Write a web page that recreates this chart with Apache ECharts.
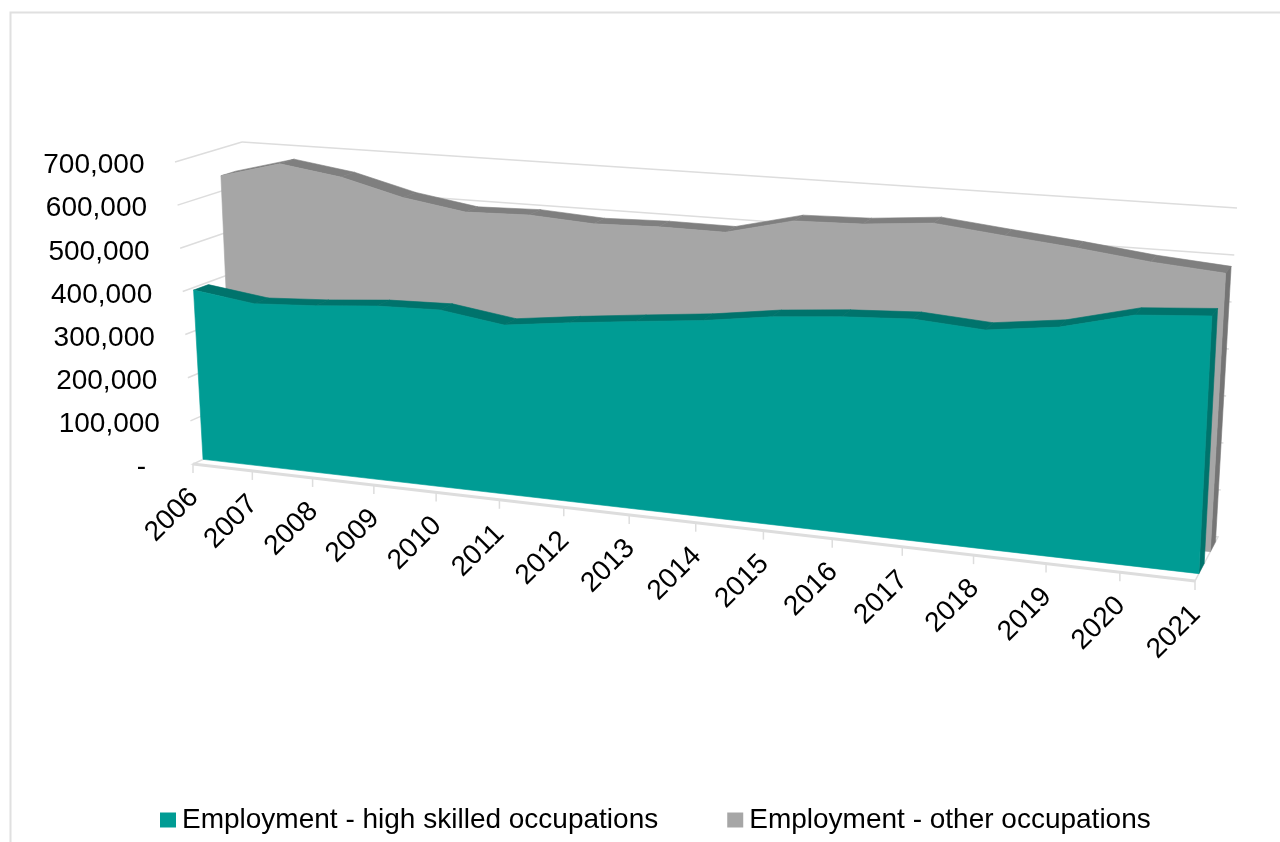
<!DOCTYPE html>
<html><head><meta charset="utf-8">
<style>html,body{margin:0;padding:0;background:#fff}#c{width:1280px;height:842px}</style>
<script src="https://cdn.jsdelivr.net/npm/echarts@6/dist/echarts.min.js"></script>
</head><body><div id="c"></div>
<script>
const years = ['2006','2007','2008','2009','2010','2011','2012','2013','2014','2015','2016','2017','2018','2019','2020','2021'];
const highSkilled = [394000,375000,383000,395000,399000,378000,396000,412000,427000,448000,461000,469000,459000,478000,516000,527000];
const otherOccupations = [636000,674000,653000,616000,593000,597000,588000,592000,591000,627000,631000,644000,628000,613000,595000,583000];
const yTicks = [0,100000,200000,300000,400000,500000,600000,700000];
const yTickLabels = ['-','100,000','200,000','300,000','400,000','500,000','600,000','700,000'];
const seriesNames = ['Employment - high skilled occupations','Employment - other occupations'];

// View of the 3D box: screen corners of the front and back planes
const FL0=[193,464], FR0=[1195,581], FL1=[175,162], FR1=[1212,236];
const BL0=[253,436], BR0=[1218,537], BL1=[242,142], BR1=[1237,208];
const PERSP=1.135;
const FONT='"Liberation Sans", Arial, sans-serif', FS=28;
const GRID='#DDDDDD';

function lerp(a,b,t){return [a[0]+(b[0]-a[0])*t,a[1]+(b[1]-a[1])*t];}
function makeProject(cs){
  return function(p,d){
    const u=(p[0]-cs.x)/cs.width, v=(cs.y+cs.height-p[1])/cs.height;
    const w=u/(u+PERSP*(1-u));
    const front=lerp(lerp(FL0,FL1,v),lerp(FR0,FR1,v),w);
    const back=lerp(lerp(BL0,BL1,v),lerp(BR0,BR1,v),w);
    return lerp(front,back,d);
  };
}
function poly(points,fill){
  return {type:'polygon',shape:{points},style:{fill,stroke:fill,lineWidth:0.6}};
}
function line(a,b,w){
  return {type:'line',shape:{x1:a[0],y1:a[1],x2:b[0],y2:b[1]},style:{stroke:GRID,lineWidth:w||1.5,fill:null}};
}
function text(s,x,y,align,rot){
  return {type:'text',x,y,rotation:rot||0,style:{text:s,fill:'#000',font:FS+'px '+FONT,align,verticalAlign:'middle'}};
}
function renderFrame(params,api){
  if(params.dataIndex!==0) return null;
  const P=makeProject(params.coordSys), n=years.length-1, ch=[];
  const floor=[P(api.coord([0,0]),0),P(api.coord([n,0]),0),P(api.coord([n,0]),1),P(api.coord([0,0]),1)];
  ch.push({type:'polygon',shape:{points:floor},style:{fill:'#fff',stroke:GRID,lineWidth:1.5}});
  ch.push(line(floor[0],floor[1],3));
  yTicks.forEach((t,i)=>{
    const a=P(api.coord([0,t]),0), b=P(api.coord([0,t]),1), c=P(api.coord([n,t]),1);
    if(t>0){ ch.push(line(a,b)); ch.push(line(b,c)); }
    const dash=t===0;
    ch.push(text(yTickLabels[i],a[0]-(dash?47:30.5),a[1]+(dash?3:3.5),'right'));
  });
  years.forEach((y,i)=>{
    const a=P(api.coord([i,0]),0);
    ch.push(line(a,[a[0],a[1]+9]));
    ch.push(text(y,a[0]-21,a[1]+51,'center',Math.PI/4));
  });
  return {type:'group',children:ch};
}
function renderArea(values,d1,d2,frontCol,darkCol,sideCol){
  return function(params,api){
    if(params.dataIndex!==0) return null;
    const P=makeProject(params.coordSys), n=values.length-1, ch=[];
    const tops=values.map((v,i)=>api.coord([i,v]));
    for(let i=0;i<n;i++){
      ch.push(poly([P(tops[i],d1),P(tops[i+1],d1),P(tops[i+1],d2),P(tops[i],d2)],darkCol));
    }
    const b=api.coord([n,0]);
    ch.push(poly([P(tops[n],d1),P(tops[n],d2),P(b,d2),P(b,d1)],sideCol));
    const face=tops.map(t=>P(t,d1));
    face.push(P(api.coord([n,0]),d1)); face.push(P(api.coord([0,0]),d1));
    ch.push(poly(face,frontCol));
    return {type:'group',children:ch};
  };
}
const chart=echarts.init(document.getElementById('c'),null,{renderer:'canvas'});
chart.setOption({
  animation:false,
  backgroundColor:'#fff',
  grid:{left:100,right:100,top:100,bottom:100},
  xAxis:{type:'category',data:years,boundaryGap:false,show:false},
  yAxis:{type:'value',min:0,max:700000,interval:100000,show:false},
  legend:{
    left:155,top:801,itemWidth:16,itemHeight:15,itemGap:69,icon:'rect',
    selectedMode:false,
    textStyle:{fontFamily:FONT,fontSize:FS,color:'#000',padding:[0,0,0,1]},
    data:[seriesNames[0],seriesNames[1]]
  },
  graphic:[{type:'polyline',silent:true,shape:{points:[[10.5,842],[10.5,12.5],[1280,12.5]]},style:{stroke:'#E0E0E0',lineWidth:2,fill:null}}],
  series:[
    {type:'custom',name:'frame',silent:true,z:1,data:years.map((y,i)=>[i,0]),renderItem:renderFrame},
    {type:'custom',name:seriesNames[1],silent:true,z:2,itemStyle:{color:'#A6A6A6'},encode:{x:0,y:1},
     data:otherOccupations.map((v,i)=>[i,v]),renderItem:renderArea(otherOccupations,0.667,0.89,'#A6A6A6','#7F7F7F','#757575')},
    {type:'custom',name:seriesNames[0],silent:true,z:3,itemStyle:{color:'#009C94'},encode:{x:0,y:1},
     data:highSkilled.map((v,i)=>[i,v]),renderItem:renderArea(highSkilled,0.167,0.4,'#009C94','#00736C','#00736C')}
  ]
});
</script></body></html>
